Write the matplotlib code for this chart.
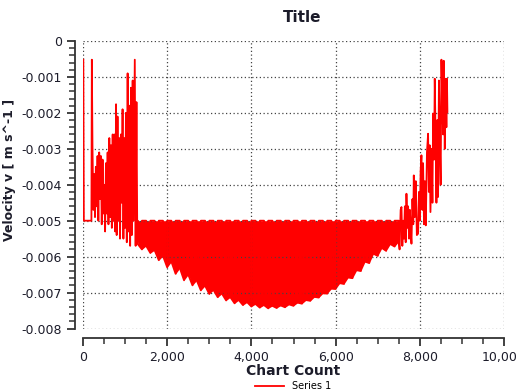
import matplotlib
matplotlib.use("Agg")
import matplotlib.pyplot as plt
from matplotlib.ticker import MultipleLocator, FuncFormatter

# left noisy start of the series
left_x = [8, 20, 200, 210, 225, 245, 265, 285, 305, 325, 345, 365, 385, 405,
          425, 445, 465, 485, 505, 525, 545, 565, 585, 605, 625, 645, 665, 685,
          705, 725, 745, 765, 785, 800, 820, 840, 860, 880, 900, 920, 940, 960,
          980, 1000, 1020, 1040, 1060, 1080, 1100, 1120, 1140, 1160, 1180,
          1200, 1230, 1250, 1270, 1290]
left_y = [-0.00052, -0.0050, -0.0050, -0.00052, -0.0029, -0.0047, -0.0037,
          -0.0049, -0.0035, -0.0046, -0.0032, -0.0050, -0.0031, -0.0044,
          -0.0032, -0.0051, -0.0033, -0.0048, -0.0040, -0.0053, -0.0034,
          -0.0048, -0.0031, -0.0051, -0.0027, -0.0049, -0.0029, -0.0052,
          -0.0026, -0.0050, -0.0026, -0.0053, -0.00176, -0.0054, -0.0021,
          -0.0050, -0.0027, -0.0055, -0.0026, -0.0045, -0.0019, -0.0055,
          -0.0027, -0.0052, -0.0020, -0.0056, -0.0009, -0.0053, -0.0018,
          -0.0057, -0.0013, -0.0054, -0.0011, -0.0050, -0.00052, -0.0057,
          -0.0017, -0.0056]

# dense oscillating band in the middle (top edge / bottom edge)
band_x = list(range(1300, 7600, 100))
band_top = -0.005
band_low = [-0.00565, -0.00580, -0.00570, -0.00590, -0.00582, -0.00610,
            -0.00598, -0.00630, -0.00614, -0.00648, -0.00632, -0.00666,
            -0.00650, -0.00680, -0.00666, -0.00694, -0.00681, -0.00704,
            -0.00693, -0.00713, -0.00703, -0.00722, -0.00713, -0.00730,
            -0.00721, -0.00735, -0.00727, -0.00739, -0.00732, -0.00742,
            -0.00735, -0.00744, -0.00737, -0.00743, -0.00736, -0.00741,
            -0.00733, -0.00737, -0.00728, -0.00731, -0.00721, -0.00723,
            -0.00712, -0.00714, -0.00702, -0.00703, -0.00689, -0.00690,
            -0.00674, -0.00676, -0.00658, -0.00660, -0.00638, -0.00640,
            -0.00614, -0.00618, -0.00592, -0.00598, -0.00576, -0.00584,
            -0.00565, -0.00572, -0.00558]

# right noisy end of the series
right_x = [7520, 7545, 7565, 7585, 7605, 7625, 7645, 7665, 7683, 7705, 7722,
           7745, 7765, 7785, 7802, 7825, 7845, 7857, 7880, 7904, 7930, 7959,
           7980, 8000, 8020, 8039, 8060, 8078, 8100, 8120, 8142, 8170, 8197,
           8215, 8235, 8253, 8280, 8300, 8316, 8340, 8355, 8375, 8395, 8415,
           8434, 8455, 8474, 8495, 8514, 8535, 8555, 8569, 8593, 8612, 8632,
           8645, 8656]
right_y = [-0.0058, -0.0047, -0.00462, -0.0057, -0.0050, -0.0055, -0.0046,
           -0.0056, -0.00425, -0.0052, -0.0046, -0.0055, -0.0047, -0.0053,
           -0.00564, -0.0044, -0.0051, -0.00374, -0.0049, -0.0039, -0.0054,
           -0.00536, -0.0042, -0.0050, -0.0036, -0.00318, -0.0047, -0.0034,
           -0.0051, -0.0039, -0.00513, -0.0031, -0.00258, -0.0042, -0.0029,
           -0.00476, -0.0030, -0.0045, -0.00202, -0.0033, -0.00105, -0.0026,
           -0.0045, -0.0022, -0.00434, -0.0011, -0.00267, -0.0040, -0.00052,
           -0.0018, -0.0026, -0.00055, -0.0030, -0.00105, -0.0024, -0.00105,
           -0.00197]

# build the full series: band is drawn as vertical strokes
xs = list(left_x)
ys = list(left_y)
for i, (bx, bl) in enumerate(zip(band_x, band_low)):
    if i % 2 == 0:
        xs += [bx, bx]
        ys += [band_top, bl]
    else:
        xs += [bx, bx]
        ys += [bl, band_top]
xs += right_x
ys += right_y

text_col = "#1c1c2a"

fig = plt.figure(figsize=(5.17, 3.92), dpi=100)
ax = fig.add_axes([83 / 517, 1 - 328.5 / 392, 421 / 517, 287.5 / 392])

ax.fill_between(band_x, band_low, band_top, color="red", lw=0)
ax.plot(xs, ys, color="red", lw=1.3, label="Series 1")

ax.set_xlim(0, 10000)
ax.set_ylim(-0.008, 0)

ax.xaxis.set_major_locator(MultipleLocator(2000))
ax.xaxis.set_minor_locator(MultipleLocator(500))
ax.yaxis.set_major_locator(MultipleLocator(0.001))
ax.yaxis.set_minor_locator(MultipleLocator(0.0002))
ax.xaxis.set_major_formatter(FuncFormatter(lambda v, p: f"{v:,.0f}"))
ax.yaxis.set_major_formatter(
    FuncFormatter(lambda v, p: "0" if abs(v) < 1e-9 else f"{v:.3f}"))

ax.grid(True, which="major", linestyle=(0, (1, 2)), color="#444444", lw=0.9)
for gl in ax.get_xgridlines() + ax.get_ygridlines():
    gl.set_clip_on(False)

for s in ["top", "right"]:
    ax.spines[s].set_visible(False)
ax.spines["left"].set_position(("outward", 6))
ax.spines["bottom"].set_position(("outward", 7))
for s in ["left", "bottom"]:
    ax.spines[s].set_color("#333333")
    ax.spines[s].set_linewidth(1.3)

ax.tick_params(which="major", length=6, width=1.3, color="#333333",
               labelsize=9, labelcolor=text_col, pad=3)
ax.tick_params(which="minor", length=4, width=1.1, color="#333333")

ax.set_xlabel("Chart Count", fontsize=10, fontweight="bold", color=text_col,
              labelpad=0)
ax.set_ylabel("Velocity v [ m s^-1 ]", fontsize=9, fontweight="bold",
              color=text_col)
ax.yaxis.set_label_coords(-0.16, 0.55)

fig.text(302 / 517, 1 - 18 / 392, "Title", fontsize=11, fontweight="bold",
         color=text_col, ha="center", va="center")

fig.legend(loc="center", bbox_to_anchor=(293 / 517, 1 - 386 / 392),
           frameon=False, fontsize=7, handlelength=3, borderpad=0)

fig.savefig("out.png", dpi=100)
